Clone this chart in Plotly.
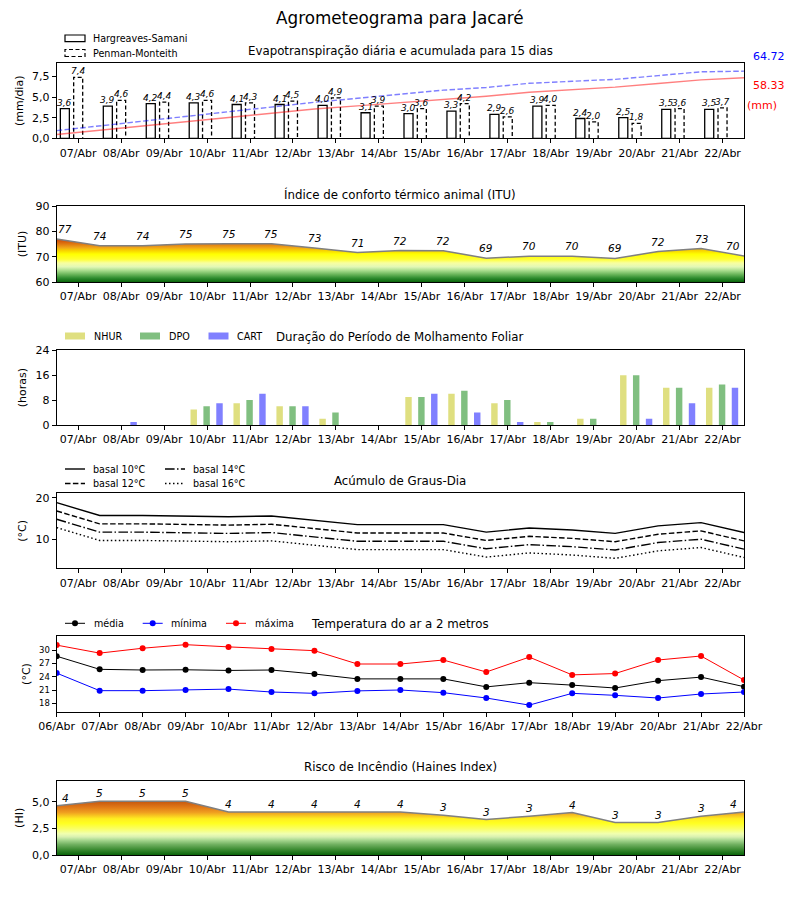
import plotly.graph_objects as go

W, H = 800, 900
FONT = "DejaVu Sans"
OFF = 8  # page body margin of the html page

# ---------------- data ----------------
days = ["07/Abr", "08/Abr", "09/Abr", "10/Abr", "11/Abr", "12/Abr", "13/Abr", "14/Abr",
        "15/Abr", "16/Abr", "17/Abr", "18/Abr", "19/Abr", "20/Abr", "21/Abr", "22/Abr"]
temp_days = ["06/Abr"] + days

et_hs = [3.6, 3.9, 4.2, 4.3, 4.1, 4.1, 4.0, 3.1, 3.0, 3.3, 2.9, 3.9, 2.4, 2.5, 3.5, 3.5]
et_pm = [7.4, 4.6, 4.4, 4.6, 4.3, 4.5, 4.9, 3.9, 3.6, 4.2, 2.6, 4.0, 2.0, 1.8, 3.6, 3.7]
acc_hs = [3.6, 7.5, 11.7, 16.0, 20.1, 24.2, 28.2, 31.3, 34.3, 37.6, 40.5, 44.4, 46.8, 49.3, 52.8, 56.3, 58.33]
acc_pm = [7.4, 12.0, 16.4, 21.0, 25.3, 29.8, 34.7, 38.6, 42.2, 46.4, 49.0, 53.0, 55.0, 56.8, 60.4, 64.1, 64.72]
acc_hs_total = "58.33"
acc_pm_total = "64.72"

itu = [77.0, 74.3, 74.3, 75.0, 75.1, 75.1, 73.4, 71.6, 72.4, 72.3, 69.4, 70.2, 70.2, 69.3, 72.0, 73.2, 70.3]
itu_lbl = [77, 74, 74, 75, 75, 75, 73, 71, 72, 72, 69, 70, 70, 69, 72, 73, 70]

wet_nhur = [0, 0, 0, 5, 7, 6, 2, 0, 9, 10, 7, 1, 2, 16, 12, 12]
wet_dpo = [0, 0, 0, 6, 8, 6, 4, 0, 9, 11, 8, 1, 2, 16, 12, 13]
wet_cart = [0, 1, 0, 7, 10, 6, 0, 0, 10, 4, 1, 0, 0, 2, 7, 12]

gd10 = [18.8, 15.7, 15.7, 15.6, 15.4, 15.6, 14.6, 13.5, 13.5, 13.5, 11.7, 12.7, 12.2, 11.4, 13.2, 14.0, 11.6]
gd12 = [16.8, 13.7, 13.7, 13.6, 13.4, 13.6, 12.6, 11.5, 11.5, 11.5, 9.7, 10.7, 10.2, 9.4, 11.2, 12.0, 9.6]
gd14 = [14.8, 11.7, 11.7, 11.6, 11.4, 11.6, 10.6, 9.5, 9.5, 9.5, 7.7, 8.7, 8.2, 7.4, 9.2, 10.0, 7.6]
gd16 = [12.8, 9.7, 9.7, 9.6, 9.4, 9.6, 8.6, 7.5, 7.5, 7.5, 5.7, 6.7, 6.2, 5.4, 7.2, 8.0, 5.6]

t_med = [28.6, 25.65, 25.5, 25.55, 25.4, 25.5, 24.6, 23.5, 23.5, 23.5, 21.7, 22.65, 22.1, 21.45, 23.1, 23.9, 21.75]
t_min = [24.8, 20.85, 20.85, 21.0, 21.2, 20.55, 20.25, 20.8, 21.0, 20.4, 19.2, 17.6, 20.25, 19.8, 19.2, 20.1, 20.55]
t_max = [31.1, 29.3, 30.4, 31.2, 30.7, 30.2, 29.85, 26.85, 26.85, 27.75, 25.05, 28.4, 24.4, 24.7, 27.75, 28.65, 23.25]

haines = [4.63, 5.06, 5.06, 5.06, 4.06, 4.06, 4.06, 4.06, 4.06, 3.75, 3.34, 3.66, 4.0, 3.06, 3.06, 3.66, 4.06]
haines_lbl = [4, 5, 5, 5, 4, 4, 4, 4, 4, 3, 3, 3, 4, 3, 3, 3, 4]

# ---------------- helpers ----------------
def PX(x):
    return (x - OFF) / W

def PY(y):
    return 1 - (y - OFF) / H

XDOM = [PX(56.7), PX(744)]
panels = [(63.3, 138.3), (206, 282), (350.3, 425), (493.3, 568.3), (636, 712), (780.7, 855)]

day_x = list(range(len(days)))
half_x = [k - 0.5 for k in range(len(days) + 1)]

def comma(v, fmt="{:.1f}"):
    return fmt.format(v).replace(".", ",")

fig = go.Figure()
ann = []
shapes = []

# ---------------- panel 1: ET ----------------
bw = 0.21
fig.add_trace(go.Bar(x=day_x, y=et_hs, width=bw, offset=-0.31 - bw / 2,
                     marker=dict(color="white", line=dict(color="black", width=1.3)),
                     xaxis="x", yaxis="y", showlegend=False))
px_, py_ = [], []
for i, v in zip(day_x, et_pm):
    x0, x1 = i - bw / 2, i + bw / 2
    px_ += [x0, x0, x1, x1, None]
    py_ += [0, v, v, 0, None]
fig.add_trace(go.Scatter(x=px_, y=py_, mode="lines", line=dict(color="black", width=1.3, dash="4px,2.5px"),
                         xaxis="x", yaxis="y", showlegend=False))
fig.add_trace(go.Scatter(x=half_x, y=acc_hs, mode="lines", line=dict(color="rgba(255,0,0,0.5)", width=1.4),
                         xaxis="x", yaxis="y7", showlegend=False))
fig.add_trace(go.Scatter(x=half_x, y=acc_pm, mode="lines",
                         line=dict(color="rgba(0,0,255,0.5)", width=1.4, dash="5.5px,2.4px"),
                         xaxis="x", yaxis="y7", showlegend=False))
for i, v in zip(day_x, et_hs):
    ann.append(dict(x=i - 0.31, y=v, xref="x", yref="y", text=comma(v), showarrow=False,
                    yanchor="bottom", font=dict(size=9, style="italic", color="black"), yshift=-1))
for i, v in zip(day_x, et_pm):
    ann.append(dict(x=i, y=v, xref="x", yref="y", text=comma(v), showarrow=False,
                    yanchor="bottom", font=dict(size=9, style="italic", color="black"), yshift=-1))
ann.append(dict(x=PX(769), y=PY(56), xref="paper", yref="paper", text=acc_pm_total, showarrow=False,
                font=dict(size=11, color="blue"), xanchor="center", yanchor="middle"))
ann.append(dict(x=PX(769), y=PY(85.5), xref="paper", yref="paper", text=acc_hs_total, showarrow=False,
                font=dict(size=11, color="red"), xanchor="center", yanchor="middle"))
ann.append(dict(x=PX(761.5), y=PY(105.5), xref="paper", yref="paper", text="(mm)", showarrow=False,
                font=dict(size=11, color="red"), xanchor="center", yanchor="middle"))

# ---------------- panel 2: ITU ----------------
itu_scale = [[0.0, "#0a640a"], [0.083, "#2e8b2e"], [0.167, "#6ab55a"], [0.25, "#a8dc8c"],
             [0.333, "#e2f8b6"], [0.417, "#f8ffa0"], [0.5, "#ffff30"], [0.611, "#ffff00"],
             [0.694, "#f8d000"], [0.75, "#f0a818"], [0.833, "#e07810"], [0.917, "#d05008"],
             [1.0, "#c01800"]]
fig.add_trace(go.Scatter(x=half_x, y=itu, mode="lines", fill="tozeroy",
                         fillgradient=dict(type="vertical", colorscale=itu_scale, start=60, stop=78),
                         line=dict(color="#808080", width=1.5), xaxis="x2", yaxis="y2", showlegend=False))
for x, v, l in zip(half_x, itu, itu_lbl):
    ann.append(dict(x=min(max(x, -0.3), 15.25), y=v, xref="x2", yref="y2", text=str(l), showarrow=False,
                    yanchor="bottom", yshift=2, font=dict(size=10.5, style="italic", color="black")))

# ---------------- panel 3: leaf wetness ----------------
wb = 0.15
for vals, col, c in [(wet_nhur, "#dfdf80", -0.31), (wet_dpo, "#80bf80", -0.01), (wet_cart, "#8080ff", 0.29)]:
    fig.add_trace(go.Bar(x=day_x, y=vals, width=wb, offset=c - wb / 2, marker=dict(color=col, line=dict(width=0)),
                         xaxis="x3", yaxis="y3", showlegend=False))

# ---------------- panel 4: degree days ----------------
for vals, dash in [(gd10, "solid"), (gd12, "5.5px,2.4px"), (gd14, "9.6px,2.4px,1.5px,2.4px"), (gd16, "1.5px,2.5px")]:
    fig.add_trace(go.Scatter(x=half_x, y=vals, mode="lines", line=dict(color="black", width=1.4, dash=dash),
                             xaxis="x4", yaxis="y4", showlegend=False))

# ---------------- panel 5: temperature ----------------
for vals, col in [(t_med, "black"), (t_min, "blue"), (t_max, "red")]:
    fig.add_trace(go.Scatter(x=half_x, y=vals, mode="lines+markers", line=dict(color=col, width=1),
                             marker=dict(color=col, size=6), xaxis="x5", yaxis="y5", showlegend=False))

# ---------------- panel 6: Haines ----------------
hi_scale = [[0.0, "#0a640a"], [0.09, "#3a8a30"], [0.18, "#70b060"], [0.255, "#a8d890"],
            [0.31, "#d8f0b0"], [0.364, "#f0ffb0"], [0.455, "#faff60"], [0.545, "#ffff20"],
            [0.62, "#ffee20"], [0.673, "#f8c820"], [0.727, "#f0a020"], [0.818, "#e07818"],
            [0.909, "#c85a10"], [1.0, "#b84808"]]
fig.add_trace(go.Scatter(x=half_x, y=haines, mode="lines", fill="tozeroy",
                         fillgradient=dict(type="vertical", colorscale=hi_scale, start=0, stop=5.5),
                         line=dict(color="#808080", width=1.5), xaxis="x6", yaxis="y6", showlegend=False))
for x, v, l in zip(half_x, haines, haines_lbl):
    ann.append(dict(x=min(max(x, -0.3), 15.25), y=v, xref="x6", yref="y6", text=str(l), showarrow=False,
                    yanchor="bottom", yshift=0, font=dict(size=10.5, style="italic", color="black")))

# ---------------- axes ----------------
def xaxis(n, tv, tt):
    suf = "" if n == 1 else str(n)
    return dict(domain=XDOM, range=[-0.5, 15.5], tickvals=tv, ticktext=tt, ticks="outside", ticklen=4,
                tickwidth=1, tickcolor="black", showline=True, linecolor="black", linewidth=1.2, mirror=True,
                showgrid=False, zeroline=False, tickfont=dict(size=11, color="black"), anchor="y" + suf,
                automargin=False, fixedrange=True)

def yaxis(n, rng, tv, tt, title, fs=11):
    suf = "" if n == 1 else str(n)
    top, bot = panels[n - 1]
    return dict(domain=[PY(bot), PY(top)], range=rng, tickvals=tv, ticktext=tt, ticks="outside", ticklen=4,
                tickwidth=1, tickcolor="black", showline=True, linecolor="black", linewidth=1.2, mirror=True,
                showgrid=False, zeroline=False, tickfont=dict(size=fs, color="black"), anchor="x" + suf,
                title=dict(text=title, font=dict(size=11, color="black"), standoff=6),
                automargin=False, fixedrange=True)

lay = {}
for n in range(1, 7):
    key = "xaxis" if n == 1 else "xaxis%d" % n
    if n == 5:
        lay[key] = xaxis(n, half_x, temp_days)
    else:
        lay[key] = xaxis(n, day_x, days)

lay["yaxis"] = yaxis(1, [0, 9.1], [0, 2.5, 5, 7.5], ["0,0", "2,5", "5,0", "7,5"], "(mm/dia)")
lay["yaxis2"] = yaxis(2, [60, 90], [60, 70, 80, 90], ["60", "70", "80", "90"], "(ITU)")
lay["yaxis3"] = yaxis(3, [0, 24], [0, 8, 16, 24], ["0", "8", "16", "24"], "(horas)")
lay["yaxis4"] = yaxis(4, [3.0, 21.05], [10, 20], ["10", "20"], "(°C)")
lay["yaxis5"] = yaxis(5, [16.05, 33.15], [18, 21, 24, 27, 30], ["18", "21", "24", "27", "30"], "(°C)", fs=8.5)
lay["yaxis6"] = yaxis(6, [0, 7.0], [0, 2.5, 5], ["0,0", "2,5", "5,0"], "(HI)")
lay["yaxis7"] = dict(overlaying="y", range=[0, 72.3], visible=False, anchor="x", fixedrange=True)

# ---------------- titles ----------------
ann.append(dict(x=PX(400), y=PY(18), xref="paper", yref="paper", text="Agrometeograma para Jacaré", showarrow=False,
                font=dict(size=16.8, color="black"), yanchor="middle"))
for txt, yy in [("Evapotranspiração diária e acumulada para 15 dias", 51),
                ("Índice de conforto térmico animal (ITU)", 194),
                ("Duração do Período de Molhamento Foliar", 337),
                ("Acúmulo de Graus-Dia", 481),
                ("Temperatura do ar a 2 metros", 624),
                ("Risco de Incêndio (Haines Index)", 767)]:
    ann.append(dict(x=PX(400), y=PY(yy), xref="paper", yref="paper", text=txt, showarrow=False,
                    font=dict(size=11.8, color="black"), yanchor="middle"))

# ---------------- manual legends ----------------
def leg_text(x, y, t):
    ann.append(dict(x=PX(x), y=PY(y), xref="paper", yref="paper", text=t, showarrow=False,
                    xanchor="left", yanchor="middle", font=dict(size=9.6, color="black")))

def leg_rect(x0, x1, y0, y1, fill="white", line="black", dash="solid", lw=1.2):
    shapes.append(dict(type="rect", xref="paper", yref="paper", x0=PX(x0), x1=PX(x1), y0=PY(y1), y1=PY(y0),
                       fillcolor=fill, line=dict(color=line, width=lw, dash=dash)))

def leg_line(x0, x1, y, color="black", dash="solid", lw=1.4):
    shapes.append(dict(type="line", xref="paper", yref="paper", x0=PX(x0), x1=PX(x1), y0=PY(y), y1=PY(y),
                       line=dict(color=color, width=lw, dash=dash)))

def leg_dot(x, y, color, r=3):
    shapes.append(dict(type="circle", xref="paper", yref="paper", x0=PX(x - r), x1=PX(x + r),
                       y0=PY(y + r), y1=PY(y - r), fillcolor=color, line=dict(color=color, width=0)))

# panel 1
leg_rect(65, 85, 35, 41.7)
leg_text(91, 38.3, "Hargreaves-Samani")
leg_rect(65, 85, 49.5, 56.5, dash="4px,2.5px")
leg_text(91, 53, "Penman-Monteith")
# panel 3
for x0, col, t in [(65, "#dfdf80", "NHUR"), (140, "#80bf80", "DPO"), (208.5, "#8080ff", "CART")]:
    leg_rect(x0, x0 + 20, 332.5, 339.5, fill=col, line=col, lw=0)
    leg_text(x0 + 26.5, 336, t)
# panel 4
leg_line(65, 85, 469)
leg_text(91, 469, "basal 10°C")
leg_line(65, 85, 483.5, dash="5.5px,2.4px")
leg_text(91, 483.5, "basal 12°C")
leg_line(165, 185, 469, dash="9.6px,2.4px,1.5px,2.4px")
leg_text(191, 469, "basal 14°C")
leg_line(165, 185, 483.5, dash="1.5px,2.5px")
leg_text(191, 483.5, "basal 16°C")
# panel 5
for x0, col, t in [(65, "black", "média"), (142.7, "blue", "mínima"), (226, "red", "máxima")]:
    leg_line(x0, x0 + 20, 623.3, color=col, lw=1)
    leg_dot(x0 + 10, 623.3, col)
    leg_text(x0 + 26.5, 623.3, t)

fig.update_layout(width=W, height=H, margin=dict(l=0, r=0, t=0, b=0), template="none",
                  plot_bgcolor="white", paper_bgcolor="white", barmode="overlay",
                  font=dict(family=FONT, color="black"), annotations=ann, shapes=shapes,
                  showlegend=False, **lay)

fig.write_html("out.html")
